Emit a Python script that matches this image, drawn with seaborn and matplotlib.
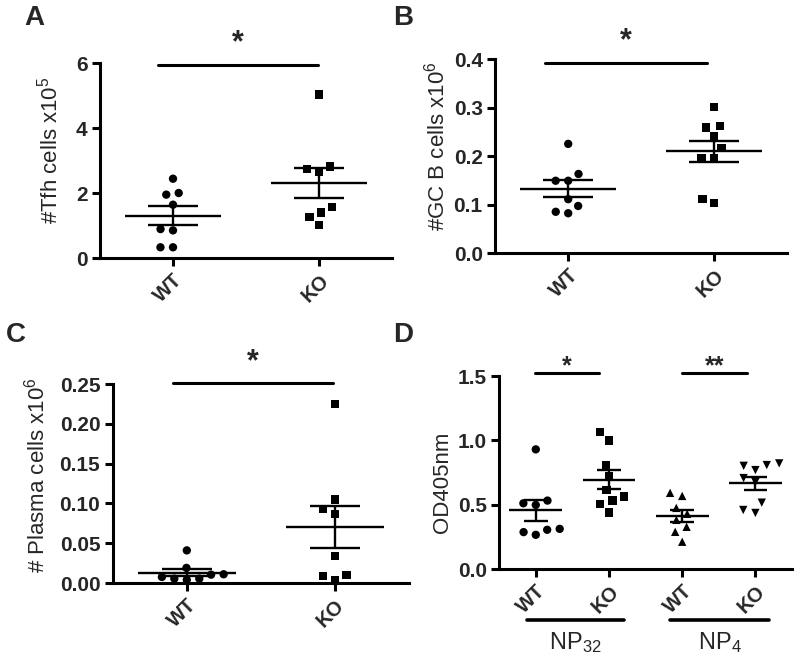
"""Scatter-Plots (Mittelwert ± SEM) für Tfh-, GC-B-, Plasmazellen und OD405."""
import numpy as np
import pandas as pd
import matplotlib
matplotlib.use("Agg")
import matplotlib.pyplot as plt
import seaborn as sns

# Panel A: Tfh-Zellen (x10^5)
tfh_wt = [2.44, 2.00, 1.95, 1.64, 0.89, 0.85, 0.33, 0.33]
tfh_ko = [5.03, 2.82, 2.73, 2.65, 1.57, 1.40, 1.26, 1.02]

# Panel B: GC-B-Zellen (x10^6)
gcb_wt = [0.225, 0.163, 0.149, 0.149, 0.111, 0.097, 0.085, 0.082]
gcb_ko = [0.301, 0.262, 0.259, 0.240, 0.216, 0.196, 0.196, 0.111, 0.103]

# Panel C: Plasmazellen (x10^6)
plasma_wt = [0.041, 0.019, 0.011, 0.0105, 0.0076, 0.0055, 0.0055, 0.004]
plasma_ko = [0.225, 0.105, 0.093, 0.087, 0.034, 0.0097, 0.0084, 0.004]

# Panel D: OD405nm
od_np32_wt = [0.93, 0.532, 0.511, 0.498, 0.312, 0.305, 0.287, 0.266]
od_np32_ko = [1.066, 1.00, 0.808, 0.718, 0.614, 0.563, 0.532, 0.506, 0.439]
od_np4_wt = [0.592, 0.568, 0.475, 0.429, 0.382, 0.328, 0.289, 0.212]
od_np4_ko = [0.821, 0.808, 0.802, 0.769, 0.707, 0.676, 0.516, 0.459, 0.436]

groups = ["WT", "KO"]
d_groups = ["NP32 WT", "NP32 KO", "NP4 WT", "NP4 KO"]
d_ticklabels = ["WT", "KO", "WT", "KO"]

sns.set_theme(style="ticks")
plt.rcParams["font.family"] = ["Liberation Sans", "DejaVu Sans"]
plt.rcParams["mathtext.default"] = "regular"


def scatter_panel(ax, values, cats, ticklabels, markers, mean_hw, cap_hw):
    """Zeichnet Punkte (Swarm) plus Mittelwert- und SEM-Linien."""
    df = pd.DataFrame({
        "grp": np.repeat(cats, [len(v) for v in values]),
        "val": np.concatenate(values),
    })
    for cat, mk in zip(cats, markers):
        n_before = len(ax.collections)
        sns.swarmplot(data=df[df.grp == cat], x="grp", y="val", order=cats,
                      marker=mk, color="black", size=6, ax=ax)
        for coll in list(ax.collections[n_before:]):
            if len(coll.get_offsets()) == 0:
                coll.remove()
                continue
            # unsichtbarer Rand vergrößert nur den Abstand im Swarm
            coll.set_edgecolor("none")
            coll.set_linewidth(2.6)
            coll.set_clip_on(False)

    for i, v in enumerate(values):
        m = np.mean(v)
        se = np.std(v, ddof=1) / np.sqrt(len(v))
        ax.hlines(m, i - mean_hw, i + mean_hw, color="black", lw=1.7)
        ax.hlines([m - se, m + se], i - cap_hw, i + cap_hw, color="black", lw=1.7)
        ax.vlines(i, m - se, m + se, color="black", lw=1.7)

    ax.set_xlim(-0.5, len(cats) - 0.5)
    ax.set_xticks(range(len(cats)), labels=ticklabels, rotation=45, ha="right",
                  rotation_mode="anchor", fontweight="bold", fontsize=14.5)
    ax.set_xlabel("")
    sns.despine(ax=ax)
    for side in ["left", "bottom"]:
        ax.spines[side].set_linewidth(2.2)
        ax.spines[side].set_color("black")
    ax.tick_params(axis="both", direction="out", length=6, width=2.2, color="black", pad=3)


def set_yaxis(ax, ticks, fmt, label, label_x, label_y):
    ax.set_ylim(ticks[0], ticks[-1])
    ax.set_yticks(ticks, labels=[fmt.format(t) for t in ticks],
                  fontweight="bold", fontsize=15)
    ax.set_ylabel(label, fontsize=16)
    ax.yaxis.set_label_coords(label_x, label_y)


def sig_bar(ax, x0, x1, y, text, dy, size):
    ax.plot([x0, x1], [y, y], color="black", lw=2.2, clip_on=False)
    ax.annotate(text, xy=((x0 + x1) / 2, y), xytext=(0, dy), textcoords="offset points",
                ha="center", va="baseline", fontsize=size, fontweight="bold",
                annotation_clip=False)


fig = plt.figure(figsize=(8, 6.66), dpi=100)

# A
ax_a = fig.add_axes([0.125, 0.6126, 0.365, 0.2928])
scatter_panel(ax_a, [tfh_wt, tfh_ko], groups, groups, ["o", "s"], 0.33, 0.17)
set_yaxis(ax_a, [0, 2, 4, 6], "{:.0f}", "#Tfh cells x10$^{5}$", -0.127, 0.55)
sig_bar(ax_a, -0.10, 0.99, 5.94, "*", 10, 22)

# B
ax_b = fig.add_axes([0.619, 0.6201, 0.365, 0.2913])
scatter_panel(ax_b, [gcb_wt, gcb_ko], groups, groups, ["o", "s"], 0.33, 0.17)
set_yaxis(ax_b, [0.0, 0.1, 0.2, 0.3, 0.4], "{:.1f}", "#GC B cells x10$^{6}$", -0.158, 0.55)
sig_bar(ax_b, -0.16, 0.95, 0.392, "*", 10, 22)

# C
ax_c = fig.add_axes([0.141, 0.1246, 0.37, 0.2988])
scatter_panel(ax_c, [plasma_wt, plasma_ko], groups, groups, ["o", "s"], 0.33, 0.17)
set_yaxis(ax_c, [0.0, 0.05, 0.10, 0.15, 0.20, 0.25], "{:.2f}", "# Plasma cells x10$^{6}$",
          -0.213, 0.54)
sig_bar(ax_c, -0.095, 0.99, 0.251, "*", 9, 22)

# D
ax_d = fig.add_axes([0.624, 0.1456, 0.366, 0.2898])
scatter_panel(ax_d, [od_np32_wt, od_np32_ko, od_np4_wt, od_np4_ko], d_groups, d_ticklabels,
              ["o", "s", "^", "v"], 0.36, 0.16)
set_yaxis(ax_d, [0.0, 0.5, 1.0, 1.5], "{:.1f}", "OD405nm", -0.157, 0.45)
sig_bar(ax_d, -0.01, 0.86, 1.523, "*", 0, 18)
sig_bar(ax_d, 2.0, 2.88, 1.523, "**", 0, 18)

# Gruppenlinien unter Panel D
trans = ax_d.get_xaxis_transform()
for (x0, x1), name in zip([(-0.12, 1.21), (1.84, 3.18)], ["NP$_{32}$", "NP$_{4}$"]):
    ax_d.plot([x0, x1], [-0.264, -0.264], color="black", lw=2.6, transform=trans, clip_on=False)
    ax_d.text((x0 + x1) / 2, -0.38, name, transform=trans, ha="center", va="center", fontsize=17)

# Panel-Buchstaben
for (x, y), letter in zip([(0.03, 0.973), (0.492, 0.973), (0.007, 0.497), (0.492, 0.497)],
                          ["A", "B", "C", "D"]):
    fig.text(x, y, letter, fontsize=20, fontweight="bold", va="center")

fig.savefig("out.png", dpi=100)
